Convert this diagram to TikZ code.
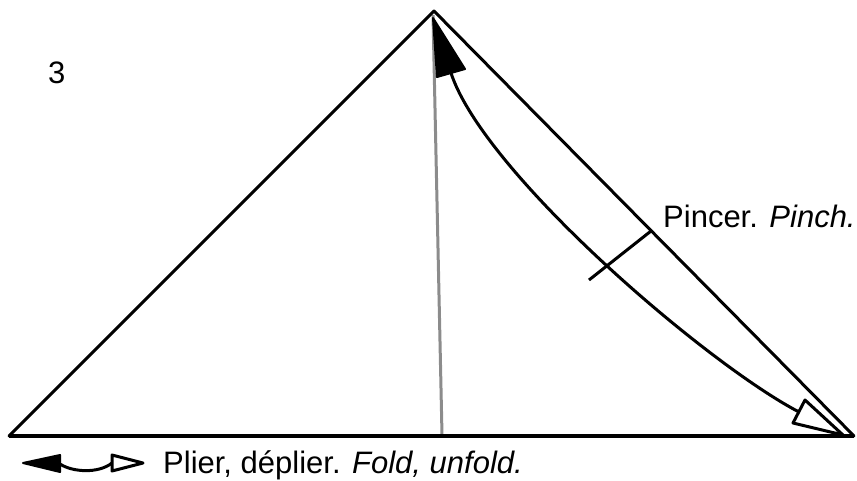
\documentclass[tikz,border=0pt]{standalone}
\usepackage{fontspec}
\setmainfont{Liberation Sans}
\begin{document}
\begin{tikzpicture}[x=1pt,y=-1pt,
  edge/.style={line width=3pt,line join=round,line cap=round},
  base/.style={line width=4pt},
  crease/.style={line width=3pt,color=black!45},
  label/.style={anchor=base west,inner sep=0pt,font=\fontsize{31}{37}\selectfont},
  solidhead/.style={fill=black,draw=black,line width=2pt,line join=round},
  hollowhead/.style={fill=white,draw=black,line width=3pt,line join=round}]
\useasboundingbox (0,0) rectangle (857,480);
% triangle
\coordinate (L) at (9,436);
\coordinate (A) at (434,11);
\coordinate (R) at (854,436);
\draw[crease] (433,15) coordinate (g1) -- (442,435) coordinate (g2);
\draw[edge] (L) -- (A) -- (R);
\draw[base] (L) -- (R);
% curved arrow
\coordinate (tb) at (451,73);
\coordinate (bb) at (799,412);
\draw[edge] (tb) .. controls (483.7,172.8) and (706,363.4) .. (bb);
\draw[solidhead] (433,18) -- (437,77) -- (465,69) -- cycle;
\draw[hollowhead] (843,435) -- (805,400) -- (793,423) -- cycle;
% pinch mark
\draw[edge,line cap=butt] (589,280) coordinate (p1) -- (651,231) coordinate (p2);
% labels
\node[label] (three) at (48,83) {3};
\node[label] (pinch) at (663,227) {Pincer. \textit{Pinch.}};
% legend arrow
\coordinate (la) at (60,464);
\coordinate (lb) at (112,463);
\draw[edge] (la) .. controls (72,472) and (98,474) .. (lb);
\draw[solidhead] (23,463) -- (60,455) -- (60,472) -- cycle;
\draw[hollowhead] (143,463) -- (112,455) -- (112,471) -- cycle;
\node[label] (fold) at (163,473) {Plier, déplier. \textit{Fold, unfold.}};
\end{tikzpicture}
\end{document}
